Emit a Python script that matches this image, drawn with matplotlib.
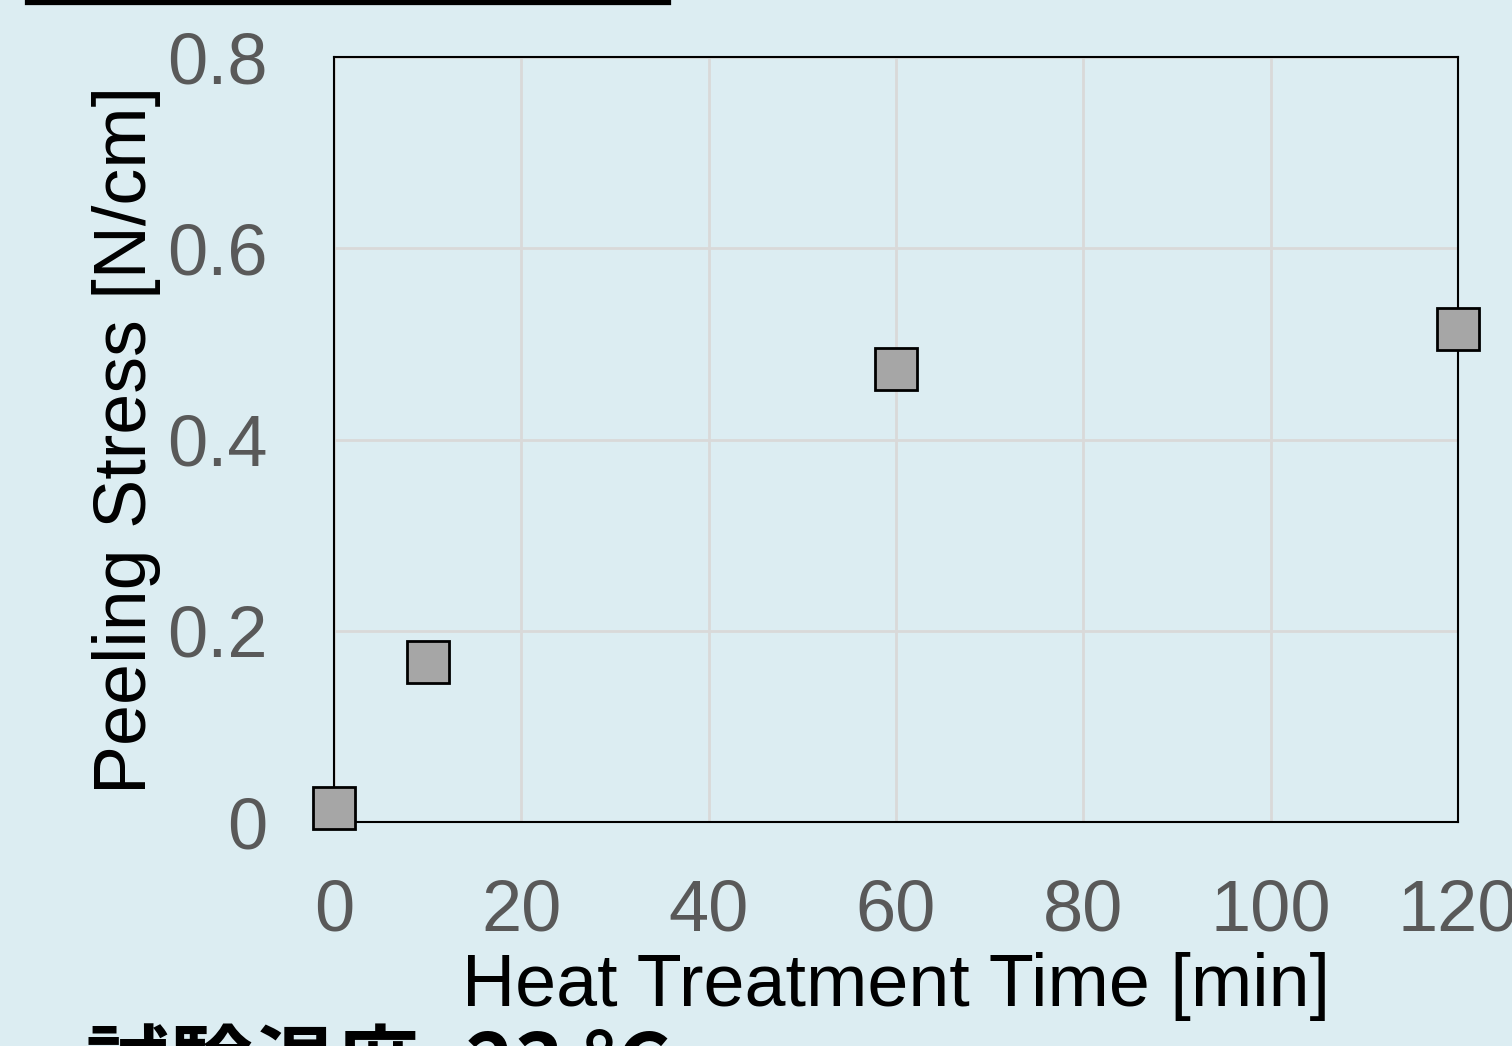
import matplotlib
matplotlib.use('Agg')
import matplotlib.pyplot as plt

# データ
jikan = [0, 10, 60, 120]                 # Heat Treatment Time [min]
hakuri = [0.015, 0.167, 0.474, 0.516]    # Peeling Stress [N/cm]
xticks = [0, 20, 40, 60, 80, 100, 120]
yticks = [0, 0.2, 0.4, 0.6, 0.8]
yticklabels = ['0', '0.2', '0.4', '0.6', '0.8']

fondo = '#dcedf2'
plt.rcParams['font.family'] = ['Liberation Sans', 'DejaVu Sans']

fig = plt.figure(figsize=(15.12, 10.46), dpi=100, facecolor=fondo)
ax = fig.add_axes([0.2209, 0.2141, 0.7434, 0.7314], facecolor=fondo)

ax.plot(jikan, hakuri, linestyle='none', marker='s', markersize=30,
        markerfacecolor='#a6a6a6', markeredgecolor='black',
        markeredgewidth=2, clip_on=False, zorder=5)

ax.set_xlim(0, 120)
ax.set_ylim(0, 0.8)
ax.set_xticks(xticks)
ax.set_yticks(yticks)
ax.set_yticklabels(yticklabels)
ax.grid(True, color='#d9d9d9', linewidth=2)
ax.set_axisbelow(True)
for s in ax.spines.values():
    s.set_linewidth(1.5)
    s.set_color('black')

ax.tick_params(axis='both', length=0, labelsize=52, labelcolor='#595959')
ax.tick_params(axis='x', pad=41)
ax.tick_params(axis='y', pad=48)

ax.set_xlabel('Heat Treatment Time [min]', fontsize=53, color='black', labelpad=4)
ax.set_ylabel('Peeling Stress [N/cm]', fontsize=53, color='black', labelpad=4)

# barra superior y texto inferior (cortado como en la referencia)
fig.add_artist(plt.Line2D([28/1512, 668/1512], [1 - 2/1046, 1 - 2/1046],
                          color='black', linewidth=4.5))
fig.text(86/1512, 0.018, '試験温度: 23 °C', fontsize=60, fontweight='bold',
         va='top', ha='left', color='black',
         family=['Noto Sans CJK JP', 'DejaVu Sans'])

fig.savefig('out.png', dpi=100, facecolor=fondo)
